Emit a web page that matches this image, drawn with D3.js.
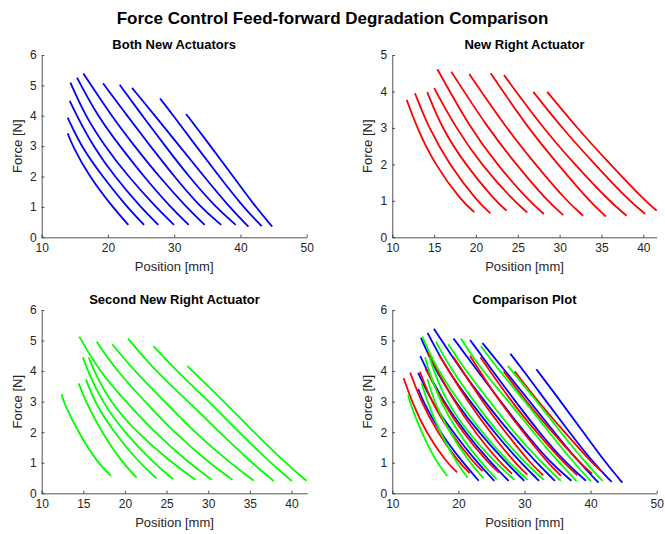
<!DOCTYPE html>
<html>
<head>
<meta charset="utf-8">
<script src="https://cdn.jsdelivr.net/npm/d3@7"></script>
<style>
  html, body { margin: 0; padding: 0; background: #fff; }
  svg { display: block; font-family: "Liberation Sans", Arial, Helvetica, sans-serif; }
</style>
</head>
<body>
<svg id="chart" width="665" height="534"></svg>
<script>
// ---------------- DATA ----------------
const mainTitle = "Force Control Feed-forward Degradation Comparison";
const panelTitles = ["Both New Actuators", "New Right Actuator", "Second New Right Actuator", "Comparison Plot"];
const xLabel = "Position [mm]";
const yLabel = "Force [N]";

// Both New Actuators (blue): each curve is a list of [position mm, force N]
const blueCurves = [
  [[13.92,3.42],[14.67,3.0],[17.17,2.0],[20.69,1.0],[23.08,0.41]],
  [[13.92,3.94],[15.92,3.0],[19.18,2.0],[22.85,1.0],[25.45,0.41]],
  [[14.23,4.49],[15.30,4.0],[17.75,3.0],[21.00,2.0],[24.90,1.0],[27.60,0.41]],
  [[14.33,5.09],[16.57,4.0],[19.53,3.0],[23.05,2.0],[27.21,1.0],[29.97,0.41]],
  [[15.33,5.25],[18.40,4.0],[21.80,3.0],[25.40,2.0],[29.40,1.0],[32.20,0.41]],
  [[16.29,5.39],[20.50,4.0],[24.00,3.0],[27.70,2.0],[31.80,1.0],[34.60,0.41]],
  [[19.26,5.07],[22.90,4.0],[26.40,3.0],[30.00,2.0],[33.90,1.0],[37.10,0.41]],
  [[21.77,5.02],[25.20,4.0],[28.65,3.0],[32.20,2.0],[36.20,1.0],[39.30,0.41]],
  [[23.63,4.92],[27.10,4.0],[30.80,3.0],[34.50,2.0],[38.30,1.0],[41.20,0.35]],
  [[27.86,4.57],[29.90,4.0],[33.30,3.0],[36.80,2.0],[40.40,1.0],[43.20,0.37]],
  [[31.79,4.06],[35.50,3.0],[38.91,2.0],[42.27,1.0],[44.80,0.35]]
];

// New Right Actuator (red)
const redCurves = [
  [[11.72,3.77],[12.95,3.0],[15.06,2.0],[18.25,1.0],[19.80,0.69]],
  [[12.71,3.95],[14.35,3.0],[16.80,2.0],[20.10,1.0],[21.71,0.66]],
  [[14.18,3.98],[15.90,3.0],[18.70,2.0],[22.30,1.0],[23.66,0.73]],
  [[15.00,4.09],[17.60,3.0],[20.60,2.0],[24.50,1.0],[26.13,0.68]],
  [[15.38,4.61],[19.30,3.0],[22.50,2.0],[26.30,1.0],[28.12,0.64]],
  [[17.05,4.54],[21.40,3.0],[24.80,2.0],[28.50,1.0],[30.43,0.61]],
  [[19.20,4.48],[23.60,3.0],[27.10,2.0],[30.80,1.0],[32.82,0.59]],
  [[21.75,4.50],[26.20,3.0],[29.80,2.0],[33.50,1.0],[35.53,0.57]],
  [[23.34,4.45],[28.00,3.0],[31.80,2.0],[35.90,1.0],[38.00,0.59]],
  [[26.85,3.99],[30.27,3.0],[34.20,2.0],[38.30,1.0],[40.23,0.64]],
  [[28.52,3.99],[32.07,3.0],[36.05,2.0],[40.20,1.0],[41.60,0.73]]
];

// Second New Right Actuator (green)
const greenCurves = [
  [[12.40,3.24],[12.60,3.0],[14.37,2.0],[16.72,1.0],[18.32,0.57]],
  [[14.44,3.60],[15.28,3.0],[17.18,2.0],[19.69,1.0],[21.40,0.51]],
  [[15.32,3.73],[16.32,3.0],[18.64,2.0],[21.71,1.0],[23.80,0.49]],
  [[14.96,4.45],[15.53,4.0],[17.24,3.0],[19.89,2.0],[23.40,1.0],[25.80,0.46]],
  [[15.64,4.45],[16.28,4.0],[18.20,3.0],[21.39,2.0],[25.60,1.0],[28.48,0.44]],
  [[14.52,5.13],[16.90,4.0],[20.12,3.0],[23.53,2.0],[27.65,1.0],[30.44,0.44]],
  [[16.60,4.96],[19.04,4.0],[22.40,3.0],[25.87,2.0],[30.08,1.0],[32.92,0.44]],
  [[18.48,4.88],[21.13,4.0],[24.80,3.0],[28.32,2.0],[32.60,1.0],[35.48,0.41]],
  [[20.36,5.07],[23.64,4.0],[27.64,3.0],[31.33,2.0],[35.22,1.0],[37.88,0.40]],
  [[23.40,4.82],[26.22,4.0],[30.12,3.0],[33.69,2.0],[37.46,1.0],[40.04,0.40]],
  [[27.48,4.17],[31.92,3.0],[35.48,2.0],[39.23,1.0],[41.80,0.41]]
];

const seriesColors = { blue: "#0000ff", red: "#ff0000", green: "#00ff00" };

const xTicks1 = [10, 20, 30, 40, 50];
const yTicks1 = [0, 1, 2, 3, 4, 5, 6];
const xTicks2 = [10, 15, 20, 25, 30, 35, 40];
const yTicks2 = [0, 1, 2, 3, 4, 5];
const xTicks3 = [10, 15, 20, 25, 30, 35, 40];
const yTicks3 = [0, 1, 2, 3, 4, 5, 6];
const xTicks4 = [10, 20, 30, 40, 50];
const yTicks4 = [0, 1, 2, 3, 4, 5, 6];

// ---------------- DRAWING ----------------
const svg = d3.select("#chart");
const axisColor = "#262626";
const fmt = d3.format("d");

svg.append("text")
  .attr("x", 332.5).attr("y", 24)
  .attr("text-anchor", "middle")
  .attr("font-size", "17px").attr("font-weight", "bold")
  .attr("fill", "#000")
  .text(mainTitle);

const panels = [
  { title: panelTitles[0], rect: {l: 41.7, r: 306.7, t: 55, b: 237.3},
    xDom: [10, 50], yDom: [0, 6], xTicks: xTicks1, yTicks: yTicks1,
    sets: [[blueCurves, seriesColors.blue]] },
  { title: panelTitles[1], rect: {l: 392.3, r: 656.7, t: 55, b: 237.3},
    xDom: [10, 41.6], yDom: [0, 5], xTicks: xTicks2, yTicks: yTicks2,
    sets: [[redCurves, seriesColors.red]] },
  { title: panelTitles[2], rect: {l: 41.7, r: 307.3, t: 310, b: 493.3},
    xDom: [10, 41.9], yDom: [0, 6], xTicks: xTicks3, yTicks: yTicks3,
    sets: [[greenCurves, seriesColors.green]] },
  { title: panelTitles[3], rect: {l: 392.3, r: 656.7, t: 310, b: 493.3},
    xDom: [10, 50], yDom: [0, 6], xTicks: xTicks4, yTicks: yTicks4,
    sets: [[blueCurves, seriesColors.blue], [redCurves, seriesColors.red], [greenCurves, seriesColors.green]] }
];

panels.forEach(p => {
  const R = p.rect;
  const x = d3.scaleLinear().domain(p.xDom).range([R.l, R.r]);
  const y = d3.scaleLinear().domain(p.yDom).range([R.b, R.t]);
  const g = svg.append("g");

  // curves
  const line = d3.line()
    .x(d => x(d[0])).y(d => y(d[1]))
    .curve(d3.curveBasis);
  p.sets.forEach(([curves, color]) => {
    g.append("g").selectAll("path").data(curves).join("path")
      .attr("d", line)
      .attr("fill", "none")
      .attr("stroke", color)
      .attr("stroke-width", 1.8)
      .attr("stroke-linecap", "butt");
  });

  // axes
  const xAxis = d3.axisBottom(x).tickValues(p.xTicks).tickFormat(fmt).tickSizeInner(-2.7).tickSizeOuter(0).tickPadding(6);
  const yAxis = d3.axisLeft(y).tickValues(p.yTicks).tickFormat(fmt).tickSizeInner(-2.7).tickSizeOuter(0).tickPadding(5);
  const gx = g.append("g").attr("transform", `translate(0,${R.b})`).call(xAxis);
  const gy = g.append("g").attr("transform", `translate(${R.l},0)`).call(yAxis);
  [gx, gy].forEach(a => {
    a.select(".domain").attr("stroke", axisColor).attr("stroke-width", 0.8);
    a.selectAll(".tick line").attr("stroke", axisColor).attr("stroke-width", 0.8);
    a.selectAll(".tick text").attr("fill", axisColor)
      .attr("font-size", "12px")
      .attr("font-family", '"Liberation Sans", Arial, Helvetica, sans-serif');
  });

  // panel title
  g.append("text")
    .attr("x", (R.l + R.r) / 2).attr("y", R.t - 6)
    .attr("text-anchor", "middle")
    .attr("font-size", "13px").attr("font-weight", "bold")
    .attr("fill", "#000")
    .text(p.title);

  // axis labels
  g.append("text")
    .attr("x", (R.l + R.r) / 2).attr("y", R.b + 34)
    .attr("text-anchor", "middle")
    .attr("font-size", "13px")
    .attr("fill", axisColor)
    .text(xLabel);
  g.append("text")
    .attr("transform", `translate(${R.l - 20},${(R.t + R.b) / 2}) rotate(-90)`)
    .attr("text-anchor", "middle")
    .attr("font-size", "13px")
    .attr("fill", axisColor)
    .text(yLabel);
});
</script>
</body>
</html>
